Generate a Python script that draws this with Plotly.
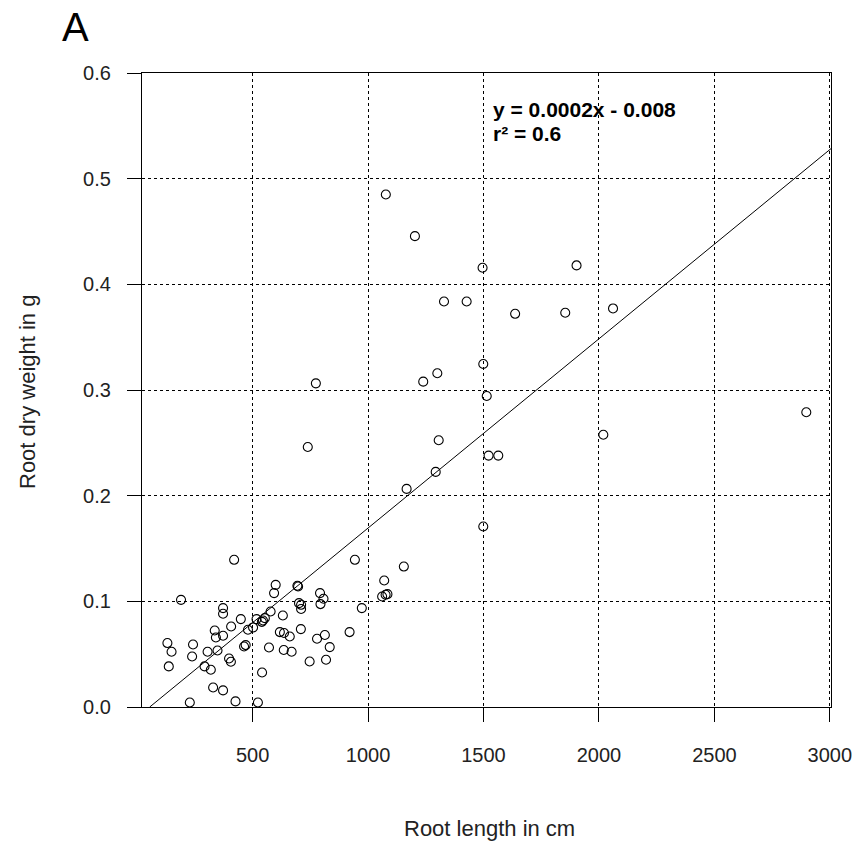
import plotly.graph_objects as go

# Root length (cm) and root dry weight (g)
root_length = [
    420, 190, 372, 372, 449, 407, 336, 341, 372, 131,
    149, 242, 238, 137, 305, 348, 292, 319, 398, 406,
    329, 372, 228, 426, 523, 463, 470, 480, 502, 517,
    545, 553, 540, 578, 600, 593, 631, 694, 697, 701,
    710, 710, 792, 807, 794, 943, 973, 1070, 1061, 1076,
    1084, 1155, 1499, 618, 636, 661, 709, 571, 635, 669,
    779, 813, 834, 920, 747, 818, 541,
    1077, 1203, 1496, 1903, 1329, 1427, 1637, 1854, 2061, 1499,
    1300, 1239, 774, 1514, 739, 1306, 1522, 1564, 1293, 1167,
    2019, 2898,
]
root_weight = [
    0.1393, 0.1014, 0.0936, 0.0882, 0.0832, 0.0762, 0.0724, 0.0658, 0.0674, 0.0605,
    0.0523, 0.0592, 0.0478, 0.0384, 0.0523, 0.0535, 0.0384, 0.0353, 0.0459, 0.0428,
    0.0185, 0.0157, 0.0043, 0.0053, 0.0043, 0.0573, 0.0586, 0.0731, 0.0753, 0.0832,
    0.0819, 0.0841, 0.0806, 0.0904, 0.1156, 0.1078, 0.0866, 0.1147, 0.1140, 0.0983,
    0.0967, 0.0927, 0.1078, 0.1024, 0.0974, 0.1393, 0.0936, 0.1197, 0.1046, 0.1062,
    0.1068, 0.1329, 0.1708, 0.0709, 0.0700, 0.0667, 0.0737, 0.0563, 0.0539, 0.0523,
    0.0646, 0.0681, 0.0567, 0.0709, 0.0431, 0.0447, 0.0327,
    0.4850, 0.4456, 0.4157, 0.4179, 0.3838, 0.3838, 0.3721, 0.3731, 0.3772, 0.3246,
    0.3158, 0.3079, 0.3063, 0.2943, 0.2461, 0.2524, 0.2379, 0.2379, 0.2225, 0.2064,
    0.2577, 0.2789,
]

# Fitted regression line (as drawn)
fit_slope = 0.0001791
fit_intercept = -0.00975

x_ticks = [500, 1000, 1500, 2000, 2500, 3000]
y_ticks = [0.0, 0.1, 0.2, 0.3, 0.4, 0.5, 0.6]
x_range = [21, 3005]
y_range = [0.0, 0.6]

eq_text = "y = 0.0002x - 0.008"
r2_text = "r² = 0.6"
panel_label = "A"
x_title = "Root length in cm"
y_title = "Root dry weight in g"

W, H = 856, 846
ML, MR, MT, MB = 142, 25, 73, 139
PW, PH = W - ML - MR, H - MT - MB

def px_x(p):
    return (p - ML) / PW

def px_y(p):
    return (H - MB - p) / PH

FONT = "Liberation Sans, Arial, sans-serif"

# line starts where the fit crosses y=0, ends at the right edge
x0 = -fit_intercept / fit_slope
x1 = x_range[1]

fig = go.Figure()
fig.add_trace(go.Scatter(
    x=[x0, x1], y=[fit_intercept + fit_slope * x0, fit_intercept + fit_slope * x1],
    mode="lines", line=dict(color="black", width=1), hoverinfo="skip", showlegend=False,
))
fig.add_trace(go.Scatter(
    x=root_length, y=root_weight, mode="markers",
    marker=dict(symbol="circle-open", size=9, color="black", line=dict(width=1.1)),
    showlegend=False,
))

axis_common = dict(
    automargin=False,
    showline=True, linecolor="black", linewidth=1.3, mirror=True,
    ticks="outside", ticklen=14, tickcolor="black", tickwidth=1,
    showgrid=True, gridcolor="black", gridwidth=1, griddash="dot",
    zeroline=False, tickfont=dict(family=FONT, size=20, color="#222"),
)
fig.update_xaxes(range=x_range, tickvals=x_ticks, ticktext=[str(v) for v in x_ticks],
                 ticklabelstandoff=16, **axis_common)
fig.update_yaxes(range=y_range, tickvals=y_ticks, ticktext=[f"{v:.1f}" for v in y_ticks],
                 ticklabelstandoff=12, **axis_common)

annotations = [
    dict(text=eq_text, x=px_x(491), y=px_y(110), xanchor="left", yanchor="middle",
         font=dict(family=FONT, size=21, color="black", weight="bold")),
    dict(text=r2_text, x=px_x(491), y=px_y(134), xanchor="left", yanchor="middle",
         font=dict(family=FONT, size=21, color="black", weight="bold")),
    dict(text=panel_label, x=px_x(60), y=px_y(27), xanchor="left", yanchor="middle",
         font=dict(family=FONT, size=40, color="black")),
    dict(text=x_title, x=px_x(489), y=px_y(828), xanchor="center", yanchor="middle",
         font=dict(family=FONT, size=22, color="#222")),
    dict(text=y_title, x=px_x(27), y=px_y(392), xanchor="center", yanchor="middle",
         textangle=-90, font=dict(family=FONT, size=22, color="#222")),
]
for a in annotations:
    a.update(xref="paper", yref="paper", showarrow=False)

fig.update_layout(
    width=W, height=H, margin=dict(l=ML, r=MR, t=MT, b=MB),
    paper_bgcolor="white", plot_bgcolor="white",
    annotations=annotations, showlegend=False,
)

fig.write_html("out.html")
